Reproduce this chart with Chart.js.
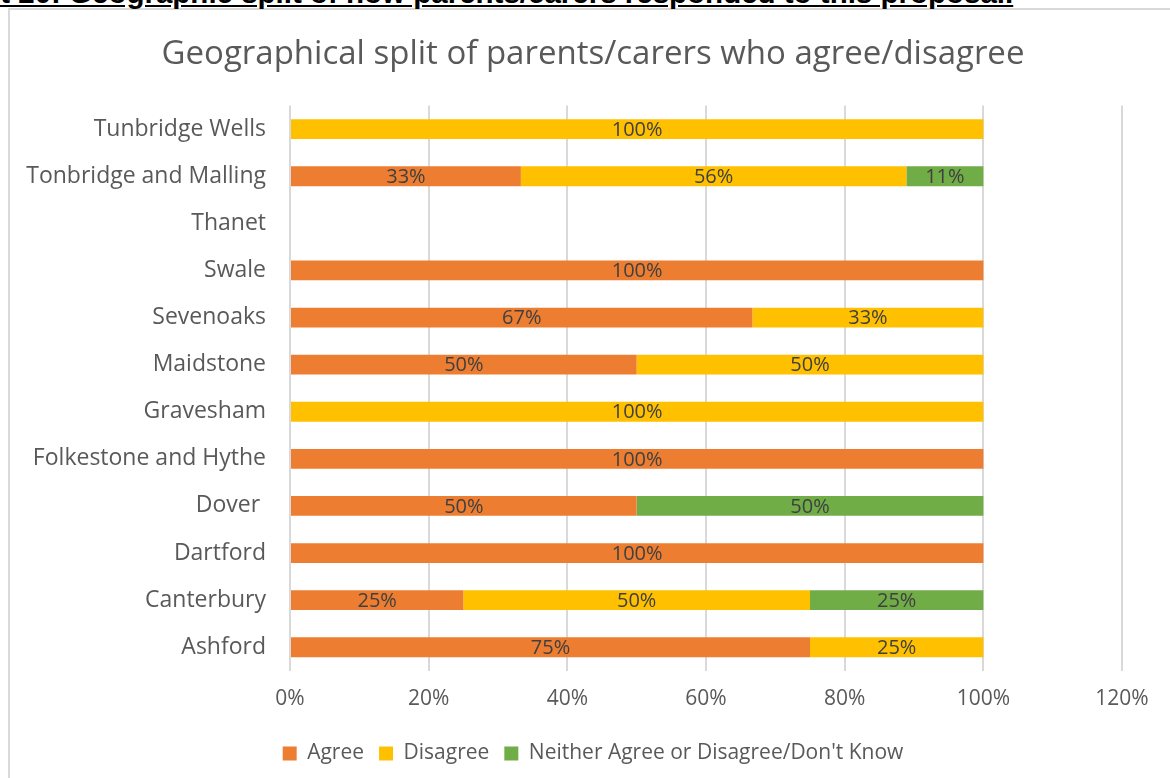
<!DOCTYPE html>
<html>
<head>
<meta charset="utf-8">
<script src="https://cdn.jsdelivr.net/npm/chart.js@4.4.1/dist/chart.umd.min.js"></script>
<style>
  html, body { margin: 0; padding: 0; background: #fff; overflow: hidden; width: 1170px; height: 778px; }
  #heading {
    position: absolute; left: -67px; top: -24px; white-space: nowrap;
    font-family: "Liberation Sans", Arial, sans-serif; font-weight: bold; font-size: 29.5px;
    text-decoration: underline; color: #000;
  }
  #frame {
    position: absolute; left: 8px; top: 8px; width: 1180px; height: 800px;
    border: 2px solid #D9D9D9; box-sizing: border-box; background: #fff;
  }
  #box { position: absolute; left: 9px; top: 10px; width: 1168px; height: 780px; }
</style>
</head>
<body>
<div id="frame"></div>
<div id="heading">Chart 20: Geographic split of how parents/carers responded to this proposal.</div>
<div id="box"><canvas id="mainChart"></canvas></div>
<script>
// 資料 (top to bottom)
const districts = ['Tunbridge Wells', 'Tonbridge and Malling', 'Thanet', 'Swale', 'Sevenoaks', 'Maidstone',
                   'Gravesham', 'Folkestone and Hythe', 'Dover ', 'Dartford', 'Canterbury', 'Ashford'];
const agree    = [0, 33.3, 0, 100, 66.7, 50, 0, 100, 50, 100, 25, 75];
const disagree = [100, 55.6, 0, 0, 33.3, 50, 100, 0, 0, 0, 50, 25];
const neither  = [0, 11.1, 0, 0, 0, 0, 0, 0, 50, 0, 25, 0];
const seriesNames = ['Agree', 'Disagree', "Neither Agree or Disagree/Don't Know"];
const xTicks = [0, 20, 40, 60, 80, 100, 120];

const font = '"Open Sans", "Noto Sans", sans-serif';

// 在每段中央畫百分比
const barLabels = {
    id: 'barLabels',
    afterDatasetsDraw(chart) {
        const c = chart.ctx;
        c.save();
        c.font = '20px ' + font;
        c.fillStyle = '#404040';
        c.textAlign = 'center';
        c.textBaseline = 'middle';
        chart.data.datasets.forEach((ds, i) => {
            chart.getDatasetMeta(i).data.forEach((bar, j) => {
                const v = ds.data[j];
                if (!v) return;
                const p = bar.getProps(['x', 'y', 'base'], true);
                c.fillText(Math.round(v) + '%', (p.x + p.base) / 2, p.y + 1);
            });
        });
        c.restore();
    }
};

// 標題與圖例置中於整張畫布
const centerBoxes = {
    id: 'centerBoxes',
    afterLayout(chart) {
        [chart.titleBlock, chart.legend].forEach(b => {
            if (!b) return;
            b.left = 0;
            b.right = chart.width;
        });
    }
};

new Chart(document.getElementById('mainChart'), {
    type: 'bar',
    data: {
        labels: districts,
        datasets: [
            { label: seriesNames[0], data: agree, backgroundColor: '#ED7D31' },
            { label: seriesNames[1], data: disagree, backgroundColor: '#FFC000' },
            { label: seriesNames[2], data: neither, backgroundColor: '#70AD47' }
        ]
    },
    options: {
        indexAxis: 'y',
        responsive: true,
        maintainAspectRatio: false,
        animation: false,
        barPercentage: 0.42,
        categoryPercentage: 1,
        layout: { padding: { left: 10, right: 55, bottom: 16 } },
        plugins: {
            title: {
                display: true,
                text: 'Geographical split of parents/carers who agree/disagree',
                color: '#595959',
                font: { family: font, size: 33, weight: 'normal' },
                padding: { top: 25, bottom: 31 }
            },
            legend: {
                position: 'bottom',
                labels: {
                    color: '#595959',
                    font: { family: font, size: 21 },
                    boxWidth: 14, boxHeight: 14, padding: 15
                }
            },
            tooltip: { enabled: false }
        },
        scales: {
            x: {
                stacked: true, min: 0, max: 120,
                afterBuildTicks: s => { s.ticks = xTicks.map(v => ({ value: v })); },
                ticks: { color: '#595959', font: { family: font, size: 21 }, padding: 16, callback: v => v + '%' },
                grid: { color: '#D9D9D9', lineWidth: 2, drawTicks: false },
                border: { display: false }
            },
            y: {
                stacked: true,
                ticks: { color: '#595959', font: { family: font, size: 23 }, padding: 24 },
                grid: { display: false, drawTicks: false },
                border: { display: false },
                afterFit: s => { s.width = 271; }
            }
        }
    },
    plugins: [barLabels, centerBoxes]
});
</script>
</body>
</html>
